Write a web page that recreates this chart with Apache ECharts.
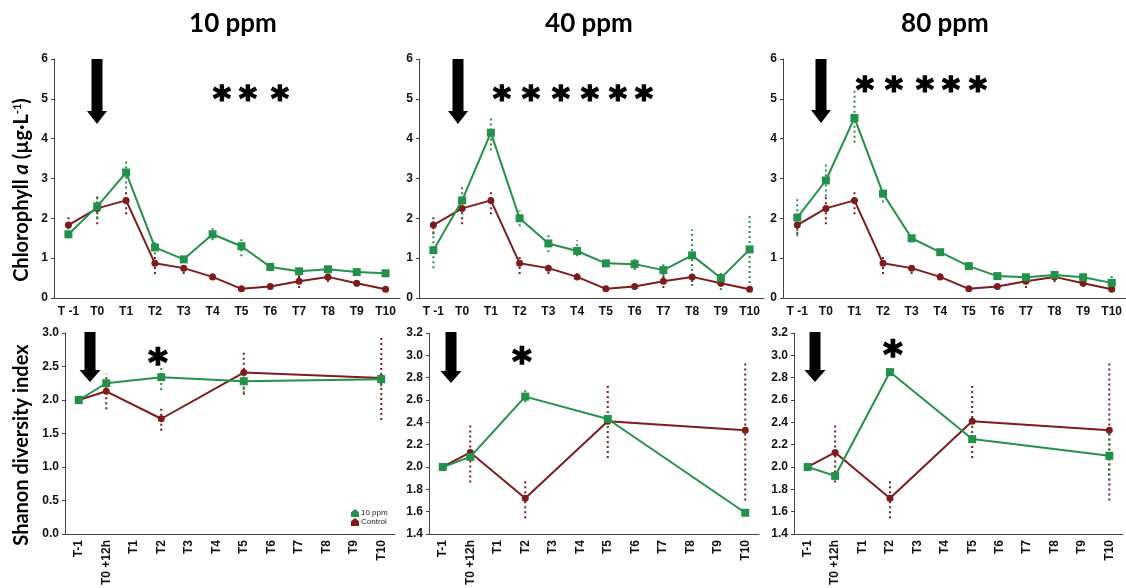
<!DOCTYPE html>
<html><head><meta charset="utf-8">
<script src="https://cdn.jsdelivr.net/npm/echarts@6/dist/echarts.min.js"></script>
<style>html,body{margin:0;padding:0;background:#fff}#c{width:1126px;height:588px}</style>
</head><body><div id="c"></div>
<script>
// ---------- DATA ----------
const chlCats = ['T -1','T0','T1','T2','T3','T4','T5','T6','T7','T8','T9','T10'];
const chlControl = [1.83,2.25,2.45,0.87,0.75,0.53,0.23,0.29,0.42,0.53,0.37,0.22];
const chl10 = [1.6,2.3,3.15,1.27,0.97,1.6,1.3,0.78,0.67,0.72,0.65,0.62];
const chl40 = [1.2,2.45,4.15,2.0,1.37,1.18,0.87,0.85,0.7,1.07,0.5,1.22];
const chl80 = [2.02,2.95,4.52,2.62,1.5,1.15,0.8,0.55,0.52,0.58,0.52,0.38];
const chlControlErr = [[1.6,2.05],[1.85,2.55],[2.1,2.7],[0.6,1.05],[0.6,0.85],[0.45,0.62],[0.18,0.28],[0.22,0.35],[0.25,0.6],[0.4,0.65],[0.28,0.45],null];
const chl10Err = [[1.5,1.7],[2.0,2.6],[2.75,3.5],[1.1,1.4],[0.9,1.05],[1.45,1.75],[1.05,1.55],[0.72,0.85],[0.55,0.8],[0.62,0.85],[0.58,0.72],null];
const chl40Err = [[0.75,1.95],[2.1,2.8],[3.7,4.55],[1.8,2.2],[1.15,1.6],[1.05,1.45],[0.8,0.95],[0.7,0.98],[0.55,0.85],[0.3,1.72],[0.2,0.7],[0.25,2.1]];
const chl80Err = [[1.55,2.5],[2.55,3.4],[3.9,5.2],[2.4,2.75],[1.4,1.6],null,null,null,null,null,null,[0.25,0.6]];

const shanCats = ['T-1','T0 +12h','T1','T2','T3','T4','T5','T6','T7','T8','T9','T10'];
const shanTimes = ['T-1','T0 +12h','T2','T5','T10'];
const shanControl = [2.0,2.13,1.72,2.41,2.33];
const shan10 = [2.0,2.25,2.34,2.28,2.31];
const shan40 = [2.0,2.09,2.63,2.43,1.59];
const shan80 = [2.0,1.92,2.85,2.25,2.1];
const shanControlErr = [null,[1.86,2.39],[1.54,1.88],[2.08,2.74],[1.7,2.95]];
const shan10Err = [null,null,[2.15,2.5],[2.1,2.35],[2.2,2.4]];
const shan40Err = [null,null,[2.58,2.7],[2.35,2.5],null];
const shan80Err = [null,null,[2.82,2.88],null,[1.88,2.32]];

const panelTitles = ['10 ppm','40 ppm','80 ppm'];

// ---------- STYLE ----------
const GREEN = '#23914a';
const RED = '#7c1c1c';
const AXC = '#444';

const chart = echarts.init(document.getElementById('c'));

const grids = [
  {left:54, top:59, width:346, height:239},
  {left:419, top:59, width:345, height:239},
  {left:783, top:59, width:343, height:239},
  {left:65, top:333, width:330, height:206},
  {left:429, top:333, width:330, height:206},
  {left:794, top:333, width:329, height:206}
];

const xAxes = [], yAxes = [], series = [];
grids.forEach((g,i)=>{
  const top = i<3;
  xAxes.push({
    type:'category', gridIndex:i, data: top?chlCats:shanCats, boundaryGap:true,
    axisLine:{lineStyle:{color:AXC,width:1}},
    axisTick:{alignWithLabel:true,length:4,lineStyle:{color:AXC}},
    axisLabel:{color:'#111',fontWeight:'bold',fontSize:12,fontFamily:'Liberation Sans, Arial',
      interval:0, rotate: top?0:90, margin: top?8:6},
    splitLine:{show:false}
  });
  let ymin=0,ymax=6,iv=1;
  if(i===3){ymin=0;ymax=3;iv=0.5;}
  if(i>3){ymin=1.4;ymax=3.2;iv=0.2;}
  yAxes.push({
    type:'value', gridIndex:i, min:ymin, max:ymax, interval:iv,
    axisLine:{show:true,lineStyle:{color:AXC,width:1}},
    axisTick:{show:true,length:3,lineStyle:{color:AXC}},
    axisLabel:{color:'#111',fontWeight:'bold',fontSize:12,fontFamily:'Liberation Sans, Arial',margin:6,
      formatter: v => top ? String(v) : v.toFixed(1)},
    splitLine:{show:false}
  });
});

function lineSeries(name, idx, cats, vals, color, sym, size){
  return {
    name, type:'line', xAxisIndex:idx, yAxisIndex:idx,
    data: vals.map((v,k)=>[cats[k], v]),
    symbol: sym, symbolSize: size, showSymbol:true,
    lineStyle:{color, width:2}, itemStyle:{color},
    z: color===GREEN?4:3, animation:false
  };
}
function errSeries(idx, cats, errs, color){
  const data = [];
  errs.forEach((e,k)=>{ if(e) data.push([cats[k], e[0], e[1]]); });
  return {
    type:'custom', xAxisIndex:idx, yAxisIndex:idx, data, z:2, animation:false, silent:true,
    encode:{x:0, y:[1,2]},
    renderItem:(params, api)=>{
      const x = api.value(0);
      const p1 = api.coord([x, api.value(1)]);
      const p2 = api.coord([x, api.value(2)]);
      return {type:'line', shape:{x1:p1[0],y1:p1[1],x2:p2[0],y2:p2[1]},
        style:{stroke:color, lineWidth:2, lineDash:[2,3]}};
    }
  };
}

const topT = [chl10, chl40, chl80], topE = [chl10Err, chl40Err, chl80Err];
const botT = [shan10, shan40, shan80], botE = [shan10Err, shan40Err, shan80Err];
for(let p=0;p<3;p++){
  series.push(errSeries(p, chlCats, chlControlErr, RED));
  series.push(errSeries(p, chlCats, topE[p], GREEN));
  series.push(lineSeries('Control', p, chlCats, chlControl, RED, 'circle', 7));
  series.push(lineSeries(panelTitles[p], p, chlCats, topT[p], GREEN, 'rect', 8));
  const b = p+3;
  series.push(errSeries(b, shanTimes, shanControlErr, RED));
  series.push(errSeries(b, shanTimes, botE[p], GREEN));
  series.push(lineSeries('Control', b, shanTimes, shanControl, RED, 'circle', 7));
  series.push(lineSeries(p===0?'10 ppm':panelTitles[p]+' ', b, shanTimes, botT[p], GREEN, 'rect', 8));
}

// ---------- annotations ----------
function arrow(cx, top, shaftBot, tip, sw, hw){
  return {type:'polygon', silent:true, z:10, shape:{points:[
    [cx-sw/2,top],[cx+sw/2,top],[cx+sw/2,shaftBot],[cx+hw/2,shaftBot],[cx,tip],[cx-hw/2,shaftBot],[cx-sw/2,shaftBot]
  ]}, style:{fill:'#000'}};
}
function star(x,y,big){
  const fs = big?37:34;
  return {type:'text', x, y: y+fs*0.27, silent:true, z:10, style:{text:'*', font:'bold '+fs+'px "DejaVu Sans"', fill:'#000', stroke:'#000', lineWidth:1.6, align:'center', verticalAlign:'middle'}};
}
const graphics = [
  arrow(97,59,111,124,11,20), arrow(458,59,111,124,11,20), arrow(821,59,110,123,11,20),
  arrow(90,332,370,382,11,21), arrow(451,332,371,383,11,21), arrow(815,332,370,382,11,21),
];
[222,248,280].forEach(x=>graphics.push(star(x,92)));
[502,531,561,590,618,644].forEach(x=>graphics.push(star(x,92)));
[865,894,925,951,978].forEach(x=>graphics.push(star(x,83)));
graphics.push(star(158,355,true), star(522,354,true), star(893,347,true));

graphics.push({type:'text', x:22, y:190, rotation:Math.PI/2, silent:true, style:{
  text:'{b|Chlorophyll }{i|a}{b| (µg·L}{s|-1}{b|)}', align:'center', verticalAlign:'middle',
  rich:{
    b:{font:'bold 20px Lato, "Open Sans", sans-serif', fill:'#000'},
    i:{font:'italic bold 20px Lato, "Open Sans", sans-serif', fill:'#000'},
    s:{font:'bold 11px Lato, "Open Sans", sans-serif', fill:'#000', padding:[0,0,9,0]}
  }}});
graphics.push({type:'text', x:22, y:445, rotation:Math.PI/2, silent:true, style:{
  text:'Shanon diversity index', align:'center', verticalAlign:'middle',
  font:'bold 20px Lato, "Open Sans", sans-serif', fill:'#000'}});

chart.setOption({
  animation:false,
  backgroundColor:'#fff',
  title: panelTitles.map((t,i)=>({text:t, left:[228,584,940][i], top:6, textAlign:'center',
    textStyle:{fontSize:26,fontWeight:'bold',fontFamily:'Lato, "Open Sans", sans-serif',color:'#000'}})),
  legend:{left:346, top:504, orient:'vertical', itemWidth:8, itemHeight:8, itemGap:1,
    textStyle:{fontSize:8, color:'#222', fontFamily:'Liberation Sans, Arial', padding:[0,0,0,-3]},
    data:[{name:'10 ppm', icon:'path://M5,0 L10,4 L10,10 L0,10 L0,4 Z'},{name:'Control', icon:'path://M5,0 L10,4 L10,10 L0,10 L0,4 Z'}]},
  grid: grids,
  xAxis: xAxes,
  yAxis: yAxes,
  series,
  graphic: graphics
});
</script></body></html>
